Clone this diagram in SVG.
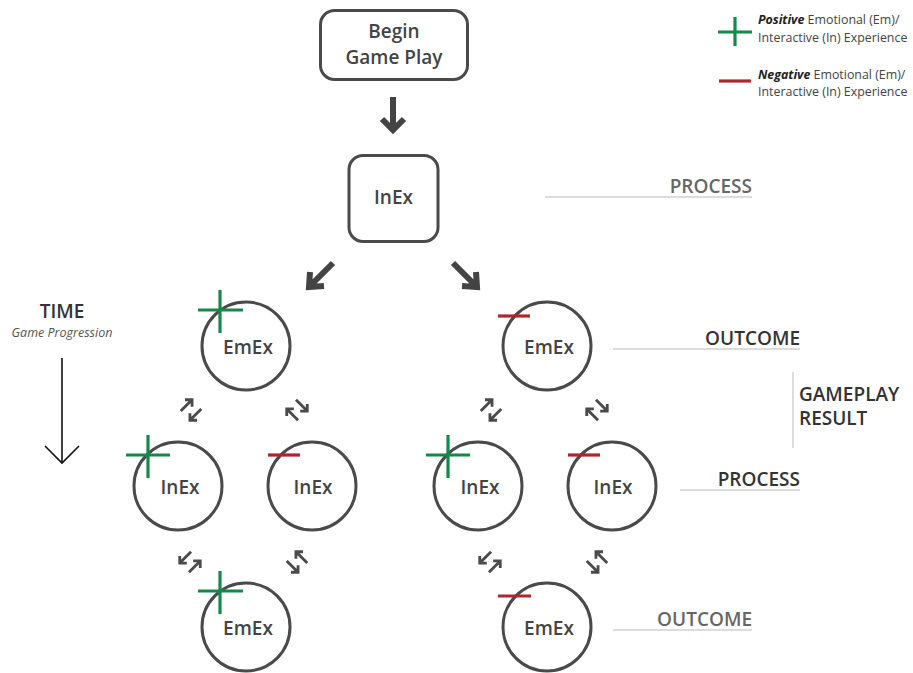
<svg xmlns="http://www.w3.org/2000/svg" width="913" height="673" viewBox="0 0 913 673">
<defs>
<style>
.box{fill:#fff;stroke:#4a4a4a;stroke-width:3}
.circ{fill:none;stroke:#4a4a4a;stroke-width:3}
.t{font-family:"Open Sans","Liberation Sans",sans-serif;fill:#444;text-anchor:middle}
.nt{font-size:19px;font-weight:600}
.lbl{font-family:"Open Sans","Liberation Sans",sans-serif;font-size:19px;font-weight:600}
.rule{stroke:#d0d0d0;stroke-width:1.5}
.big{fill:none;stroke:#444;stroke-width:6;stroke-linejoin:miter}
.sm{fill:none;stroke:#4a4a4a;stroke-width:2.8}
.pos{stroke:#15894a;stroke-width:3.2}
.neg{stroke:#b3232e;stroke-width:3.2}
.leg{font-family:"Open Sans","Liberation Sans",sans-serif;font-size:12.4px;fill:#444}
</style>
<g id="dbl">
<path class="sm" d="M-8,-6.5 L8,-6.5 M3,-11.5 L8,-6.5 L3,-1.5"/>
<path class="sm" d="M8,6.5 L-8,6.5 M-3,1.5 L-8,6.5 L-3,11.5"/>
</g>
</defs>
<rect width="913" height="673" fill="#fff"/>

<g id="legend">
<line class="pos" x1="718" y1="32" x2="752" y2="32"/>
<line class="pos" x1="735" y1="17" x2="735" y2="46"/>
<text class="leg" x="758" y="24"><tspan font-weight="bold" font-style="italic" fill="#222">Positive</tspan> Emotional (Em)/</text>
<text class="leg" x="758" y="42">Interactive (In) Experience</text>
<line class="neg" x1="719" y1="81" x2="751" y2="81"/>
<text class="leg" x="758" y="79"><tspan font-weight="bold" font-style="italic" fill="#222">Negative</tspan> Emotional (Em)/</text>
<text class="leg" x="758" y="96">Interactive (In) Experience</text>
</g>

<g id="begin">
<rect class="box" x="320.5" y="10.5" width="147" height="69" rx="14"/>
<text class="t nt" x="394" y="38" font-size="20">Begin</text>
<text class="t nt" x="394" y="64" font-size="20">Game Play</text>
</g>

<g id="inex-top">
<rect class="box" x="349" y="155.5" width="89" height="86" rx="14"/>
<text class="t nt" x="393.5" y="204">InEx</text>
</g>

<g id="emex-1"><circle class="circ" cx="246" cy="346" r="44"/><text class="t nt" x="248" y="354">EmEx</text>
<line class="pos" x1="198" y1="310" x2="243" y2="310"/><line class="pos" x1="220" y1="290" x2="220" y2="333"/></g>
<g id="emex-2"><circle class="circ" cx="547" cy="346" r="44"/><text class="t nt" x="549" y="354">EmEx</text>
<line class="neg" x1="498" y1="316" x2="530" y2="316"/></g>

<g id="inex-1"><circle class="circ" cx="178" cy="486" r="44"/><text class="t nt" x="180" y="494">InEx</text>
<line class="pos" x1="126" y1="455" x2="170" y2="455"/><line class="pos" x1="148" y1="435" x2="148" y2="478"/></g>
<g id="inex-2"><circle class="circ" cx="312" cy="486" r="44"/><text class="t nt" x="313" y="494">InEx</text>
<line class="neg" x1="268" y1="455" x2="300" y2="455"/></g>
<g id="inex-3"><circle class="circ" cx="478" cy="486" r="44"/><text class="t nt" x="480" y="494">InEx</text>
<line class="pos" x1="426" y1="455" x2="470" y2="455"/><line class="pos" x1="448" y1="435" x2="448" y2="478"/></g>
<g id="inex-4"><circle class="circ" cx="612" cy="486" r="44"/><text class="t nt" x="613" y="494">InEx</text>
<line class="neg" x1="568" y1="455" x2="600" y2="455"/></g>

<g id="emex-3"><circle class="circ" cx="246" cy="627" r="44"/><text class="t nt" x="248" y="635">EmEx</text>
<line class="pos" x1="198" y1="591" x2="243" y2="591"/><line class="pos" x1="220" y1="571" x2="220" y2="614"/></g>
<g id="emex-4"><circle class="circ" cx="547" cy="627" r="44"/><text class="t nt" x="549" y="635">EmEx</text>
<line class="neg" x1="498" y1="596" x2="531" y2="596"/></g>

<g id="connectors">
<path class="big" d="M393,97 L393,128 M382,119 L393,130 L404,119"/>
<path class="big" d="M333,263 L311,285 M310,272 L309,287 L324,286"/>
<path class="big" d="M453,263 L475,285 M476,272 L477,287 L462,286"/>
<use href="#dbl" transform="translate(191,410) rotate(-45)"/>
<use href="#dbl" transform="translate(297,410) rotate(45)"/>
<use href="#dbl" transform="translate(491,410) rotate(-45)"/>
<use href="#dbl" transform="translate(597,410) rotate(45)"/>
<use href="#dbl" transform="translate(190,562) rotate(-45) scale(1,-1)"/>
<use href="#dbl" transform="translate(297,562) rotate(45) scale(1,-1)"/>
<use href="#dbl" transform="translate(490,562) rotate(-45) scale(1,-1)"/>
<use href="#dbl" transform="translate(597,562) rotate(45) scale(1,-1)"/>
</g>

<g id="time">
<text class="lbl" x="62" y="318" text-anchor="middle" fill="#333">TIME</text>
<text x="62" y="337" text-anchor="middle" font-family="Open Sans,Liberation Sans,sans-serif" font-size="12.5" font-style="italic" fill="#555">Game Progression</text>
<line x1="62" y1="358" x2="62" y2="462" stroke="#111" stroke-width="1.6"/>
<path d="M45,446 L62,463 L79,446" fill="none" stroke="#111" stroke-width="1.6"/>
</g>

<g id="labels">
<line class="rule" x1="545" y1="197" x2="752" y2="197"/>
<text class="lbl" x="752" y="193" text-anchor="end" fill="#666">PROCESS</text>
<line class="rule" x1="613" y1="349" x2="800" y2="349"/>
<text class="lbl" x="800" y="345" text-anchor="end" fill="#333">OUTCOME</text>
<line class="rule" x1="793" y1="372" x2="793" y2="448"/>
<text class="lbl" x="799" y="401" fill="#333">GAMEPLAY</text>
<text class="lbl" x="799" y="425" fill="#333">RESULT</text>
<line class="rule" x1="680" y1="490" x2="800" y2="490"/>
<text class="lbl" x="800" y="486" text-anchor="end" fill="#333">PROCESS</text>
<line class="rule" x1="613" y1="630" x2="752" y2="630"/>
<text class="lbl" x="752" y="626" text-anchor="end" fill="#666">OUTCOME</text>
</g>
</svg>
